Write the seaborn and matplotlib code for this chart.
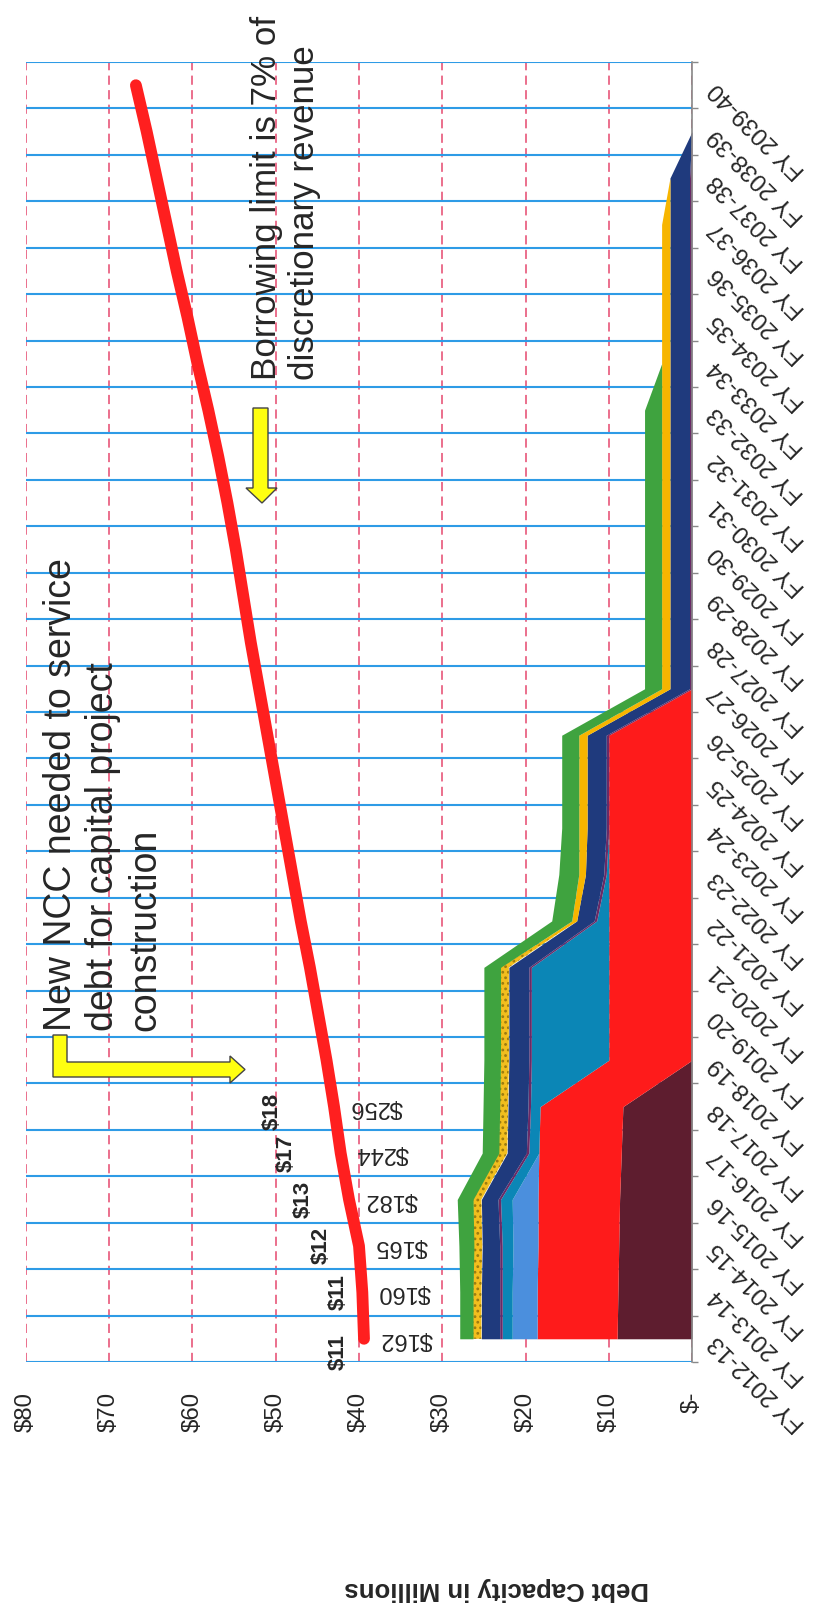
import numpy as np
import pandas as pd
import matplotlib
matplotlib.use("Agg")
import matplotlib.pyplot as plt
import seaborn as sns
from matplotlib.patches import Polygon

# ---------------- data ----------------
categories = ["FY 2012-13", "FY 2013-14", "FY 2014-15", "FY 2015-16", "FY 2016-17",
              "FY 2017-18", "FY 2018-19", "FY 2019-20", "FY 2020-21", "FY 2021-22",
              "FY 2022-23", "FY 2023-24", "FY 2024-25", "FY 2025-26", "FY 2026-27",
              "FY 2027-28", "FY 2028-29", "FY 2029-30", "FY 2030-31", "FY 2031-32",
              "FY 2032-33", "FY 2033-34", "FY 2034-35", "FY 2035-36", "FY 2036-37",
              "FY 2037-38", "FY 2038-39", "FY 2039-40"]

maroon_debt = [9.0, 8.9, 8.8, 8.7, 8.5, 8.3, 0, 0, 0, 0, 0, 0, 0, 0,
               0, 0, 0, 0, 0, 0, 0, 0, 0, 0, 0, 0, 0, 0]
red_debt = [9.6, 9.7, 9.7, 9.8, 9.9, 9.95, 10.0, 10.0, 10.0, 10.0, 10.0, 10.0, 10.0, 10.0,
            0, 0, 0, 0, 0, 0, 0, 0, 0, 0, 0, 0, 0, 0]
lightblue_debt = [3.0, 3.0, 3.0, 3.1, 0, 0, 0, 0, 0, 0, 0, 0, 0, 0,
                  0, 0, 0, 0, 0, 0, 0, 0, 0, 0, 0, 0, 0, 0]
teal_debt = [1.2, 1.2, 1.3, 1.4, 1.2, 1.15, 9.3, 9.3, 9.3, 1.45, 0.3, 0, 0, 0,
             0, 0, 0, 0, 0, 0, 0, 0, 0, 0, 0, 0, 0, 0]
purple_debt = [0.3, 0.3, 0.3, 0.3, 0.3, 0.3, 0.3, 0.3, 0.3, 0.3, 0.3, 0.3, 0.3, 0.3,
               0.3, 0.3, 0.3, 0.3, 0.3, 0.3, 0.3, 0.3, 0.3, 0.3, 0.3, 0.3, 0, 0]
navy_debt = [2.2, 2.2, 2.1, 2.0, 2.3, 2.4, 2.4, 2.4, 2.4, 2.1, 2.2, 2.3, 2.3, 2.3,
             2.35, 2.35, 2.35, 2.35, 2.35, 2.35, 2.35, 2.35, 2.35, 2.35, 2.35, 2.35, 0, 0]
gold_dotted_debt = [1.0, 1.0, 1.0, 1.0, 1.0, 1.0, 1.0, 1.0, 1.0, 0, 0, 0, 0, 0,
                    0, 0, 0, 0, 0, 0, 0, 0, 0, 0, 0, 0, 0, 0]
gold_debt = [0, 0, 0, 0, 0, 0, 0, 0, 0, 0.6, 0.8, 1.0, 1.0, 1.0,
             1.0, 1.0, 1.0, 1.0, 1.0, 1.0, 1.0, 1.0, 1.0, 1.0, 1.0, 0, 0, 0]
green_debt = [1.6, 1.6, 1.8, 1.9, 2.0, 2.0, 2.0, 2.0, 2.0, 2.4, 2.4, 2.05, 2.05, 2.05,
              2.05, 2.05, 2.05, 2.05, 2.05, 2.05, 2.05, 0, 0, 0, 0, 0, 0, 0]

borrowing_limit = [39.4, 39.6, 40.0, 41.2, 42.2, 43.0, 43.9, 44.9, 45.9, 47.0,
                   48.0, 49.0, 50.0, 51.0, 52.0, 53.0, 53.9, 54.8, 55.8, 56.9,
                   58.1, 59.4, 60.6, 61.9, 63.1, 64.3, 65.5, 66.8]

revenue_labels = [162, 160, 165, 182, 244, 256]
new_ncc_labels = [11, 11, 12, 13, 17, 18]

value_ticks = [0, 10, 20, 30, 40, 50, 60, 70, 80]
value_tick_labels = ["$-", "$10", "$20", "$30", "$40", "$50", "$60", "$70", "$80"]

# ---------------- styles ----------------
layer_styles = [
    (maroon_debt, "#5E1D2F", None),
    (red_debt, "#FE1B1B", None),
    (lightblue_debt, "#4B8FDD", None),
    (teal_debt, "#0B86B6", None),
    (purple_debt, "#6A2A66", None),
    (navy_debt, "#1F3A7D", None),
    (gold_dotted_debt, "#F2BE1E", "..."),
    (gold_debt, "#F7B500", None),
    (green_debt, "#3FA33F", None),
]
ncc_label_gap_px = [26, 24, 38, 46, 54, 62]
ncc_label_dy_px = [-13, 0, 0, 0, 0, -5]

W, H = 834, 1616
sns.set_style("white")
plt.rcParams['font.family'] = ['Liberation Sans', 'DejaVu Sans']
plt.rcParams['hatch.linewidth'] = 1.2

fig = plt.figure(figsize=(W / 100, H / 100), dpi=100)
ax = fig.add_axes([26 / W, 1 - 1362 / H, 666 / W, 1300 / H])

idx = np.arange(len(categories))
base = np.zeros(len(categories))
for vals, color, hatch in layer_styles:
    top = base + np.array(vals, dtype=float)
    if hatch:
        ax.fill_betweenx(idx, base, top, facecolor=color, edgecolor="#9A7A10",
                         hatch=hatch, lw=0, zorder=2)
    else:
        ax.fill_betweenx(idx, base, top, color=color, lw=0, zorder=2)
    base = top

df_line = pd.DataFrame({"idx": idx, "limit": borrowing_limit})
sns.lineplot(data=df_line, x="limit", y="idx", orient="y", color="#FF1F1F",
             lw=8.5, ax=ax, zorder=5, solid_capstyle="round", legend=False)

# axes
ax.set_xlim(80, 0)
ax.set_ylim(-0.5, len(categories) - 0.5)
ax.set_xlabel("")
ax.set_ylabel("")
ax.set_xticks(value_ticks)
ax.set_xticklabels(value_tick_labels, rotation=90, ha="right", va="center",
                   rotation_mode="anchor", fontsize=17.3)
ax.tick_params(axis="x", length=0, pad=21.5)

ax.yaxis.tick_right()
ax.set_yticks(np.arange(len(categories) + 1) - 0.5)
ax.set_yticklabels([])
ax.set_yticks(idx, minor=True)
ax.set_yticklabels(categories, minor=True, rotation=135, ha="right", va="center",
                   rotation_mode="anchor", fontsize=17.3)
ax.tick_params(axis="y", which="major", length=4, color="#888888", width=1,
               direction="out", right=True, left=False)
ax.tick_params(axis="y", which="minor", length=0, pad=15, right=True, left=False,
               labelright=True, labelleft=False)

ax.set_axisbelow(True)
ax.xaxis.grid(True, color="#E5486E", linestyle=(0, (6, 3.5)), lw=1.1)
ax.yaxis.grid(True, which="major", color="#2E9BE6", lw=1.5)
ax.yaxis.grid(False, which="minor")
for s in ["left", "top", "bottom"]:
    ax.spines[s].set_visible(False)
ax.spines["right"].set_color("#888888")
ax.spines["right"].set_linewidth(1.2)

# data labels
for i, v in enumerate(revenue_labels):
    ax.annotate(f"${v}", xy=(borrowing_limit[i], i), xytext=(16, 0),
                textcoords="offset pixels", rotation=180, rotation_mode="anchor",
                ha="right", va="center", fontsize=17, zorder=6)
for i, v in enumerate(new_ncc_labels):
    ax.annotate(f"${v}", xy=(borrowing_limit[i], i),
                xytext=(-ncc_label_gap_px[i], ncc_label_dy_px[i]),
                textcoords="offset pixels", rotation=90, rotation_mode="anchor",
                ha="center", va="center", fontsize=16, fontweight="bold", zorder=6)

# annotations
ax.text(78.0, 6.63, "New NCC needed to service\ndebt for capital project\nconstruction",
        rotation=90, rotation_mode="anchor", ha="left", va="top", fontsize=27,
        linespacing=1.22, zorder=6)
ax.text(53.1, 20.65, "Borrowing limit is 7% of\ndiscretionary revenue",
        rotation=90, rotation_mode="anchor", ha="left", va="top", fontsize=25.2,
        linespacing=1.2, zorder=6)

def px(pts):
    return [(x / W, 1 - y / H) for x, y in pts]

l_arrow = [(53, 1035), (67, 1035), (67, 1062), (230, 1062), (230, 1056),
           (245, 1069.5), (230, 1083), (230, 1077), (53, 1077)]
d_arrow = [(253, 408), (268, 408), (268, 488), (277, 488), (262, 503),
           (246, 488), (253, 488)]
for shape in (l_arrow, d_arrow):
    fig.add_artist(Polygon(px(shape), closed=True, transform=fig.transFigure,
                           facecolor="#FFFF10", edgecolor="#444444", lw=1, zorder=7))

fig.text(497 / W, 1 - 1589 / H, "Debt Capacity in Millions", rotation=180,
         ha="center", va="center", fontsize=18.5, fontweight="bold")

fig.savefig("out.png", dpi=100)
